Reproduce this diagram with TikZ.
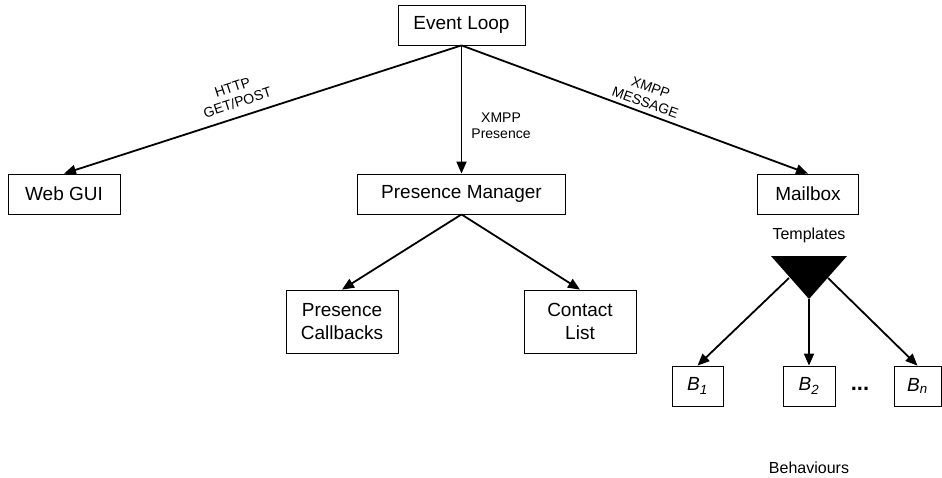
\documentclass[tikz,border=0pt]{standalone}
\usepackage{fontspec}
\setmainfont{Liberation Sans}
\usetikzlibrary{arrows.meta}

\tikzset{
  block/.style={draw,line width=0.8pt,align=center,inner sep=0pt,
    font=\fontsize{19}{23}\selectfont},
  lbl/.style={align=center,inner sep=0pt,font=\fontsize{14}{16}\selectfont},
}

\begin{document}
\begin{tikzpicture}[x=1pt,y=-1pt,->,>={Triangle[length=12pt,width=10pt]},line width=1.8pt]
      \useasboundingbox (0,0) rectangle (942,477);

      \node[block,minimum width=127pt,minimum height=40pt] (EL)  at (461.5,25)  {Event Loop};
      \node[block,minimum width=112pt,minimum height=40pt] (GUI) at (64,194)    {Web GUI};
      \node[block,minimum width=208pt,minimum height=40pt] (PM)  at (461.5,194) {Presence Manager};
      \node[block,minimum width=101pt,minimum height=40pt] (MB)  at (808,194)   {Mailbox};
      \node[block,minimum width=112pt,minimum height=63pt] (PC)  at (342,321.5) {Presence\\Callbacks};
      \node[block,minimum width=112pt,minimum height=63pt] (CL)  at (580,321.5) {Contact\\List};
      \node[block,minimum width=51pt,minimum height=40pt]  (B1)  at (697.5,386) {\textit{B\textsubscript{1}}};
      \node[block,minimum width=52pt,minimum height=40pt]  (B2)  at (809,386)   {\textit{B\textsubscript{2}}};
      \node[block,minimum width=47pt,minimum height=40pt]  (Bn)  at (917.5,386) {\textit{B\textsubscript{n}}};
      \node[font=\fontsize{22}{22}\bfseries] (dots) at (860,389) {...};

      % templates triangle
      \fill (771,256) -- (847,256) -- (809,299) -- cycle;
      \coordinate (T1) at (789,278);
      \coordinate (T2) at (809,299);
      \coordinate (T3) at (828,278);

      \node[lbl,font=\fontsize{16}{18}\selectfont] (tmpl) at (809,235) {Templates};
      \node[lbl,font=\fontsize{16}{18}\selectfont] (beh)  at (809,468) {Behaviours};
      \node[lbl,rotate=18]  (http)  at (235,95)  {HTTP\\GET/POST};
      \node[lbl]            (xpres) at (501,126) {XMPP\\Presence};
      \node[lbl,rotate=-20] (xmsg)  at (648,95)  {XMPP\\MESSAGE};

      \path (EL.south) edge (GUI.north)
                       edge (PM.north)
                       edge (MB.north)
            (PM.south) edge (PC.north)
                       edge (CL.north)
            (T1)       edge (B1.north)
            (T2)       edge (B2.north)
            (T3)       edge (Bn.north);
    \end{tikzpicture}
\end{document}
